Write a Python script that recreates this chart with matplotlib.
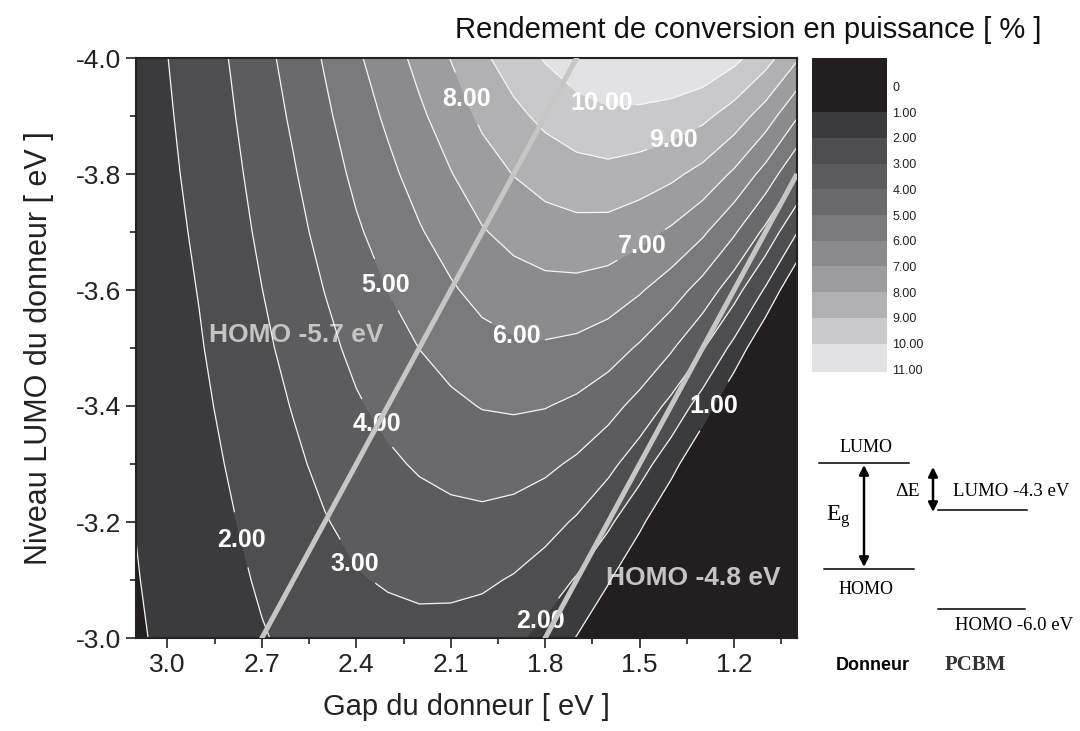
import numpy as np
import matplotlib.pyplot as plt
from matplotlib.colors import ListedColormap, BoundaryNorm
from matplotlib.ticker import MultipleLocator, FormatStrFormatter

plt.rcParams['font.family'] = ['Liberation Sans', 'DejaVu Sans']
plt.rcParams['axes.unicode_minus'] = False

# Gap du donneur (eV) and LUMO level of the donor (eV)
gap = [1.0, 1.1, 1.2, 1.3, 1.4, 1.5, 1.6, 1.7, 1.8, 1.9, 2.0,
       2.1, 2.2, 2.3, 2.4, 2.5, 2.6, 2.7, 2.8, 2.9, 3.0, 3.1]
lumo = [-4.0, -3.9, -3.8, -3.7, -3.6, -3.5, -3.4, -3.3, -3.2, -3.1, -3.0]

# power conversion efficiency (%), one row per LUMO level
rendement = [
    [8.12, 9.40, 10.26, 10.78, 10.96, 10.98, 10.90, 10.56, 10.08, 9.49, 8.82, 8.03, 7.28, 6.55, 5.85, 5.09, 4.36, 3.70, 3.04, 2.46, 1.99, 1.50],
    [6.09, 7.52, 8.55, 9.24, 9.59, 9.76, 9.81, 9.60, 9.24, 8.76, 8.19, 7.49, 6.83, 6.16, 5.53, 4.82, 4.14, 3.52, 2.90, 2.35, 1.91, 1.44],
    [4.06, 5.64, 6.84, 7.70, 8.22, 8.54, 8.72, 8.64, 8.40, 8.03, 7.56, 6.96, 6.37, 5.78, 5.20, 4.56, 3.92, 3.34, 2.76, 2.25, 1.83, 1.38],
    [2.03, 3.76, 5.13, 6.16, 6.85, 7.32, 7.63, 7.68, 7.56, 7.30, 6.93, 6.42, 5.92, 5.39, 4.88, 4.29, 3.71, 3.17, 2.62, 2.14, 1.74, 1.32],
    [0.00, 1.88, 3.42, 4.62, 5.48, 6.10, 6.54, 6.72, 6.72, 6.57, 6.30, 5.89, 5.46, 5.01, 4.55, 4.02, 3.49, 2.99, 2.48, 2.03, 1.66, 1.26],
    [-2.03, 0.00, 1.71, 3.08, 4.11, 4.88, 5.45, 5.76, 5.88, 5.84, 5.67, 5.35, 5.01, 4.62, 4.23, 3.75, 3.27, 2.82, 2.35, 1.93, 1.58, 1.20],
    [-4.06, -1.88, 0.00, 1.54, 2.74, 3.66, 4.36, 4.80, 5.04, 5.11, 5.04, 4.82, 4.55, 4.24, 3.90, 3.48, 3.05, 2.64, 2.21, 1.82, 1.49, 1.14],
    [-6.09, -3.76, -1.71, 0.00, 1.37, 2.44, 3.27, 3.84, 4.20, 4.38, 4.41, 4.28, 4.10, 3.85, 3.58, 3.22, 2.83, 2.46, 2.07, 1.71, 1.41, 1.08],
    [-8.12, -5.64, -3.42, -1.54, 0.00, 1.22, 2.18, 2.88, 3.36, 3.65, 3.78, 3.75, 3.64, 3.47, 3.25, 2.95, 2.62, 2.29, 1.93, 1.61, 1.33, 1.02],
    [-10.15, -7.52, -5.13, -3.08, -1.37, 0.00, 1.09, 1.92, 2.52, 2.92, 3.15, 3.21, 3.19, 3.08, 2.93, 2.68, 2.40, 2.11, 1.79, 1.50, 1.25, 0.96],
    [-12.18, -9.40, -6.84, -4.62, -2.74, -1.22, 0.00, 0.96, 1.68, 2.19, 2.52, 2.68, 2.73, 2.70, 2.60, 2.41, 2.18, 1.94, 1.66, 1.39, 1.16, 0.90],
]

levels = list(range(12))
# under, 0-1, 1-2, ..., 10-11, over
band_colors = ['#231f20', '#231f20', '#3b3b3d', '#4e4e50', '#5c5c5e', '#6a6a6c',
               '#7a7a7c', '#8b8b8d', '#9d9d9f', '#b1b1b3', '#c9c9cb', '#e2e2e4', '#e2e2e4']

# HOMO iso-lines (LUMO = HOMO + gap)
homo_levels = [-5.7, -4.8]
homo_texts = ['HOMO -5.7 eV', 'HOMO -4.8 eV']
homo_text_pos = [(2.59, -3.522), (1.33, -3.104)]

# where the contour labels sit
label_pos = [(1.62, -3.925), (1.39, -3.857), (2.05, -3.93), (1.49, -3.674),
             (1.89, -3.522), (2.30, -3.61), (2.335, -3.37), (2.414, -3.125),
             (2.76, -3.17), (1.855, -3.05), (1.265, -3.40)]

fig = plt.figure(figsize=(10.8, 7.31), dpi=100)
ax = fig.add_axes([136/1080, 1 - 638/731, 661/1080, 580/731])

cf = ax.contourf(gap, lumo, rendement, levels=levels, colors=band_colors[1:-1], extend='both')
cf.cmap.set_under(band_colors[0])
cf.cmap.set_over(band_colors[-1])
cs = ax.contour(gap, lumo, rendement, levels=levels[1:11], colors='#f4f4f4', linewidths=0.9)
labels = ax.clabel(cs, fmt='%.2f', fontsize=18, manual=label_pos, inline=True, inline_spacing=4)
for t in labels:
    t.set_rotation(0)
    t.set_fontweight('bold')
    t.set_color('white')

ends = [gap[0], gap[-1]]
for h in homo_levels:
    ax.plot(ends, [h + g for g in ends], color='#c6c6c6', lw=3.6, zorder=6, solid_capstyle='butt')
for txt, (x, y) in zip(homo_texts, homo_text_pos):
    ax.text(x, y, txt, color='#c4c4c4', fontsize=19, fontweight='bold',
            ha='center', va='center', zorder=1.5)

ax.set_xlim(3.1, 1.0)
ax.set_ylim(-3.0, -4.0)
ax.xaxis.set_major_locator(MultipleLocator(0.3))
ax.xaxis.set_minor_locator(MultipleLocator(0.15))
ax.yaxis.set_major_locator(MultipleLocator(0.2))
ax.yaxis.set_minor_locator(MultipleLocator(0.1))
ax.xaxis.set_major_formatter(FormatStrFormatter('%.1f'))
ax.yaxis.set_major_formatter(FormatStrFormatter('%.1f'))
ax.tick_params(which='both', direction='out', width=1.2, color='#222222', labelsize=19, labelcolor='#222222')
ax.tick_params(which='major', length=7)
ax.tick_params(which='minor', length=4)
for s in ax.spines.values():
    s.set_linewidth(1.5)
    s.set_color('#222222')

top = ax.secondary_xaxis('top')
top.xaxis.set_major_locator(MultipleLocator(0.3))
top.xaxis.set_minor_locator(MultipleLocator(0.15))
top.tick_params(which='both', direction='in', labeltop=False, width=1.2, color='#222222')
top.tick_params(which='major', length=7)
top.tick_params(which='minor', length=4)

ax.set_xlabel('Gap du donneur [ eV ]', fontsize=21, color='#222222', labelpad=12)
ax.set_ylabel('Niveau LUMO du donneur [ eV ]', fontsize=22, color='#222222', labelpad=16)
fig.text(0.693, 0.959, 'Rendement de conversion en puissance [ % ]', fontsize=21,
         ha='center', va='center', color='#111111')

# colour scale
cax = fig.add_axes([812/1080, 1 - 372/731, 75/1080, 314/731])
bounds = [-1.1] + levels + [11.1]
mids = [(a + b) / 2 for a, b in zip(bounds[:-1], bounds[1:])]
cax.pcolormesh([0, 1], bounds, np.array(mids)[:, None],
               cmap=ListedColormap(band_colors), norm=BoundaryNorm(bounds, len(band_colors)))
cax.set_xlim(0, 1)
cax.set_ylim(11.1, -1.1)
cax.set_xticks([])
cax.yaxis.tick_right()
cax.set_yticks(levels)
cax.set_yticklabels(['0'] + ['%.2f' % v for v in levels[1:]])
cax.tick_params(axis='y', length=0, labelsize=9, pad=4, labelcolor='#222222')
for s in cax.spines.values():
    s.set_visible(False)

# energy level sketch
dax = fig.add_axes([800/1080, 0, 280/1080, 311/731])
dax.set_xlim(800, 1080)
dax.set_ylim(731, 420)
dax.axis('off')
serif = ['Liberation Serif', 'DejaVu Serif']
dax.plot([819, 909], [463, 463], color='black', lw=1.1)
dax.plot([824, 914], [569, 569], color='black', lw=1.1)
dax.plot([938, 1027], [510, 510], color='black', lw=1.1)
dax.plot([938, 1025], [609, 609], color='black', lw=1.1)
arrow = dict(arrowstyle='<|-|>', lw=1.8, color='black', mutation_scale=14, shrinkA=0, shrinkB=0)
dax.annotate('', xy=(864, 465), xytext=(864, 567), arrowprops=arrow)
dax.annotate('', xy=(933, 467), xytext=(933, 512), arrowprops=arrow)
dax.text(866, 448, 'LUMO', family=serif, fontsize=13, ha='center', va='center')
dax.text(866, 589, 'HOMO', family=serif, fontsize=13, ha='center', va='center')
dax.text(838, 517, r'$\mathregular{E_g}$', family=serif, fontsize=17, ha='center', va='center')
dax.text(920, 492, '\u0394E', family=serif, fontsize=14, ha='right', va='center')
dax.text(953, 492, 'LUMO -4.3 eV', family=serif, fontsize=13.5, ha='left', va='center')
dax.text(955, 625, 'HOMO -6.0 eV', family=serif, fontsize=13.5, ha='left', va='center')
dax.text(873, 665, 'Donneur', fontsize=13, fontweight='bold', ha='center', va='center')
dax.text(975, 665, 'PCBM', family=serif, fontsize=15, fontweight='bold', color='#333333',
         ha='center', va='center')

fig.savefig('out.png', dpi=100)
